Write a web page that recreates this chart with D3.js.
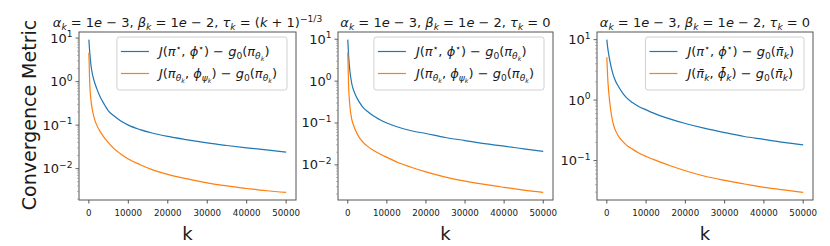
<!DOCTYPE html>
<html>
<head>
<meta charset="utf-8">
<script src="https://cdn.jsdelivr.net/npm/d3@7"></script>
<style>
  body { margin: 0; background: #fff; }
  text { font-family: "DejaVu Sans", sans-serif; fill: #1a1a1a; white-space: pre; }
</style>
</head>
<body>
<div id="chart"></div>
<script>
// sampled iterations (x values shared by every curve)
var kSteps = [0, 200, 500, 1000, 1500, 2000, 3000, 4000, 5000, 6500, 8000, 10000, 13000, 16000, 20000, 25000, 30000, 35000, 40000, 45000, 50000];

// panel 1 : tau_k = (k+1)^(-1/3)
var leftMain  = [9.2, 5.0, 2.5, 1.35, 0.93, 0.69, 0.42, 0.29, 0.21, 0.16, 0.126, 0.1, 0.079, 0.066, 0.055, 0.046, 0.039, 0.034, 0.030, 0.027, 0.024];
var leftTrack = [4.6, 1.0, 0.4, 0.2, 0.132, 0.1, 0.068, 0.050, 0.039, 0.028, 0.022, 0.0166, 0.0123, 0.0095, 0.0074, 0.0058, 0.0047, 0.004, 0.0035, 0.0031, 0.00285];
// panel 2 : tau_k = 0
var midMain   = [9.8, 4.2, 1.9, 0.89, 0.6, 0.46, 0.31, 0.23, 0.19, 0.148, 0.123, 0.1, 0.079, 0.066, 0.056, 0.045, 0.038, 0.032, 0.028, 0.024, 0.021];
var midTrack  = [4.8, 0.83, 0.28, 0.126, 0.087, 0.066, 0.044, 0.034, 0.028, 0.0224, 0.0186, 0.0151, 0.0112, 0.0089, 0.0068, 0.0051, 0.0041, 0.0034, 0.0029, 0.0025, 0.0022];
// panel 3 : averaged iterates
var rightMain  = [10, 7.6, 5.6, 3.8, 2.8, 2.24, 1.66, 1.32, 1.1, 0.91, 0.79, 0.69, 0.57, 0.49, 0.41, 0.34, 0.29, 0.25, 0.224, 0.2, 0.182];
var rightTrack = [5.1, 2.5, 1.32, 0.68, 0.44, 0.34, 0.25, 0.21, 0.18, 0.155, 0.135, 0.117, 0.098, 0.083, 0.068, 0.055, 0.047, 0.041, 0.036, 0.0327, 0.0298];

var xTicks = [0, 10000, 20000, 30000, 40000, 50000];

var titles = [
  "α_k = 1e − 3, β_k = 1e − 2, τ_k = (k + 1)^{−1/3}",
  "α_k = 1e − 3, β_k = 1e − 2, τ_k = 0",
  "α_k = 1e − 3, β_k = 1e − 2, τ_k = 0"
];
var legendLabels = [
  ["J(π^⋆, ϕ^⋆) − g_0(π_{θ_k})", "J(π_{θ_k}, ϕ_{ψ_k}) − g_0(π_{θ_k})"],
  ["J(π^⋆, ϕ^⋆) − g_0(π_{θ_k})", "J(π_{θ_k}, ϕ_{ψ_k}) − g_0(π_{θ_k})"],
  ["J(π^⋆, ϕ^⋆) − g_0(π\u0304_k)", "J(π\u0304_k, ϕ\u0304_k) − g_0(π\u0304_k)"]
];

const colors = ["#1f77b4", "#ff7f0e"];
const chartW = 830, chartH = 246;
const plotTop = 32, plotBottom = 200;
const panels = [
  { left: 79,  right: 296, series: [leftMain, leftTrack] },
  { left: 338, right: 553, series: [midMain, midTrack] },
  { left: 597, right: 813, series: [rightMain, rightTrack] }
];

var svg = d3.select("#chart").append("svg")
  .attr("width", chartW)
  .attr("height", chartH);

// tiny mathtext: _x / ^x / {groups}, letters italic, rest roman
function addMath(textSel, src, size) {
  let cur = 0;
  const isItal = c => /[A-Za-z\u0370-\u03ff\u0304]/.test(c);
  function emit(txt, it, fs, off) {
    textSel.append("tspan")
      .attr("font-size", fs)
      .attr("font-style", it ? "italic" : "normal")
      .attr("dy", off - cur)
      .text(txt);
    cur = off;
  }
  function parse(s, fs, off) {
    let i = 0, buf = "", bufIt = null;
    const flush = () => { if (buf) emit(buf, bufIt, fs, off); buf = ""; };
    while (i < s.length) {
      const c = s[i];
      if (c === "_" || c === "^") {
        flush();
        i++;
        let arg;
        if (s[i] === "{") {
          let depth = 1, j = i + 1;
          while (depth) { if (s[j] === "{") depth++; else if (s[j] === "}") depth--; j++; }
          arg = s.slice(i + 1, j - 1);
          i = j;
        } else {
          arg = s[i]; i++;
        }
        parse(arg, fs * 0.7, c === "_" ? off + fs * 0.22 : off - fs * 0.42);
        continue;
      }
      const it = isItal(c);
      if (buf && it !== bufIt && c !== "\u0304") flush();
      if (!buf) bufIt = it;
      buf += c;
      i++;
    }
    flush();
  }
  parse(src, size, 0);
}

panels.forEach((p, pi) => {
  const g = svg.append("g");

  const x = d3.scaleLinear()
    .domain([-2500, 52500])
    .range([p.left, p.right]);

  // log extent with 5% margins, like matplotlib autoscale
  const all = p.series.flat();
  const lo = Math.log10(d3.min(all)), hi = Math.log10(d3.max(all));
  const m = (hi - lo) * 0.05;
  const y = d3.scaleLog()
    .domain([Math.pow(10, lo - m), Math.pow(10, hi + m)])
    .range([plotBottom, plotTop]);

  // clip
  g.append("clipPath").attr("id", "clip" + pi)
    .append("rect")
    .attr("x", p.left).attr("y", plotTop)
    .attr("width", p.right - p.left).attr("height", plotBottom - plotTop);

  // lines
  const line = d3.line()
    .x((d, i) => x(kSteps[i]))
    .y(d => y(d))
    .curve(d3.curveMonotoneX);

  p.series.forEach((s, si) => {
    g.append("path")
      .datum(s)
      .attr("d", line)
      .attr("fill", "none")
      .attr("stroke", colors[si])
      .attr("stroke-width", 1.2)
      .attr("clip-path", "url(#clip" + pi + ")");
  });

  // frame
  g.append("rect")
    .attr("x", p.left).attr("y", plotTop)
    .attr("width", p.right - p.left).attr("height", plotBottom - plotTop)
    .attr("fill", "none")
    .attr("stroke", "#555")
    .attr("stroke-width", 1);

  // x ticks
  xTicks.forEach(t => {
    g.append("line")
      .attr("x1", x(t)).attr("x2", x(t))
      .attr("y1", plotBottom).attr("y2", plotBottom + 3.5)
      .attr("stroke", "#555");
    g.append("text")
      .attr("x", x(t)).attr("y", plotBottom + 16)
      .attr("text-anchor", "middle")
      .attr("font-size", 8.7)
      .text(t);
  });

  // y ticks (major decades + minor)
  const [d0, d1] = y.domain();
  for (let e = Math.floor(Math.log10(d0)); e <= Math.ceil(Math.log10(d1)); e++) {
    for (let k = 1; k < 10; k++) {
      const v = k * Math.pow(10, e);
      if (v < d0 || v > d1) continue;
      const major = k === 1;
      g.append("line")
        .attr("x1", p.left).attr("x2", p.left - (major ? 3.5 : 2))
        .attr("y1", y(v)).attr("y2", y(v))
        .attr("stroke", major ? "#555" : "#888")
        .attr("stroke-width", major ? 0.9 : 0.6);
      if (major) {
        const lbl = g.append("text")
          .attr("x", p.left - 6.5).attr("y", y(v) + 4.5)
          .attr("text-anchor", "end");
        addMath(lbl, "10^{" + (e < 0 ? "−" + (-e) : e) + "}", 13);
      }
    }
  }

  // title
  const tt = g.append("text")
    .attr("x", (p.left + p.right) / 2).attr("y", 27)
    .attr("text-anchor", "middle");
  addMath(tt, titles[pi], 13);

  // x label
  g.append("text")
    .attr("x", (p.left + p.right) / 2).attr("y", 240)
    .attr("text-anchor", "middle")
    .attr("font-size", 18)
    .text("k");

  // legend
  const lg = g.append("g");
  const box = lg.append("rect");
  const rows = [51.5, 73.5];
  const texts = legendLabels[pi].map((lab, li) => {
    const t = lg.append("text").attr("y", rows[li] + 4.5);
    addMath(t, lab, 13);
    return t;
  });
  const textW = d3.max(texts, t => t.node().getBBox().width);
  const lgRight = p.right - 9;
  const lgLeft = lgRight - (4 + 28 + 10 + textW + 7);
  box.attr("x", lgLeft).attr("y", 37)
    .attr("width", lgRight - lgLeft).attr("height", 53)
    .attr("rx", 2.5)
    .attr("fill", "#fff").attr("fill-opacity", 0.8)
    .attr("stroke", "#d0d0d0");
  texts.forEach((t, li) => {
    t.attr("x", lgLeft + 42);
    lg.append("line")
      .attr("x1", lgLeft + 4).attr("x2", lgLeft + 32)
      .attr("y1", rows[li]).attr("y2", rows[li])
      .attr("stroke", colors[li]).attr("stroke-width", 1.2);
  });
});

// shared y label
svg.append("text")
  .attr("transform", "translate(36,115) rotate(-90)")
  .attr("text-anchor", "middle")
  .attr("font-size", 19)
  .text("Convergence Metric");
</script>
</body>
</html>
